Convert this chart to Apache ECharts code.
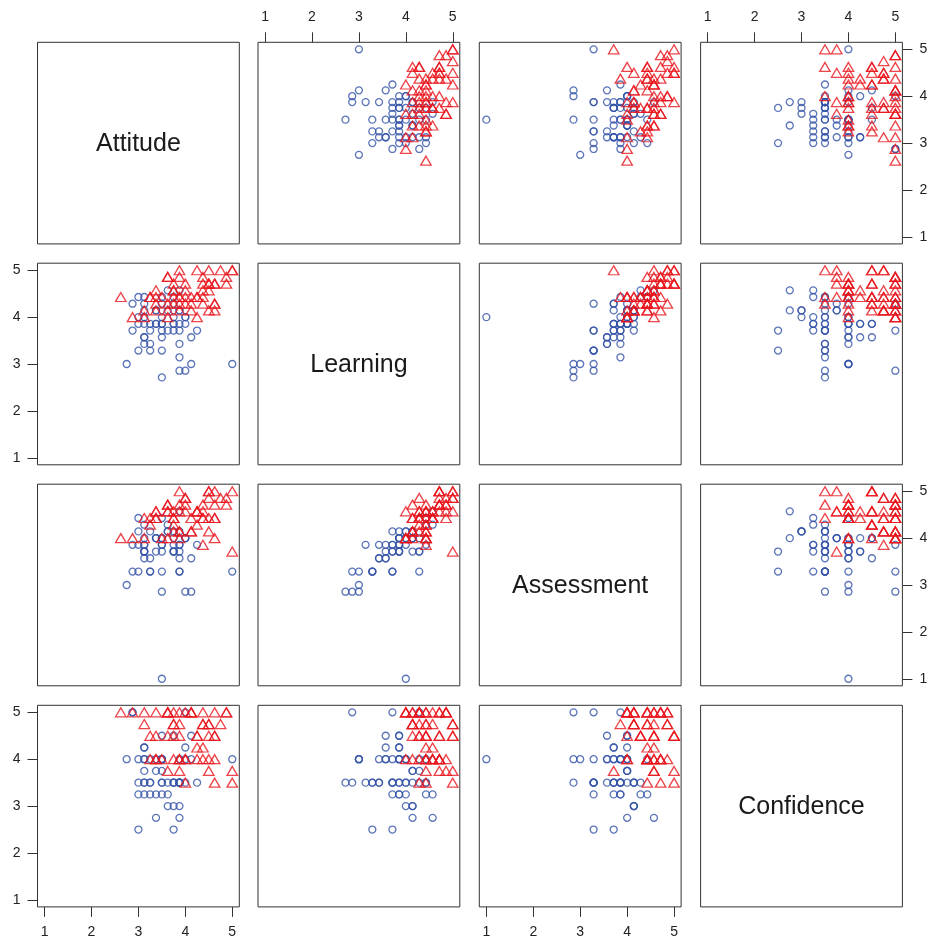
<!DOCTYPE html>
<html><head><meta charset="utf-8">
<script src="https://cdn.jsdelivr.net/npm/echarts@6/dist/echarts.min.js"></script>
<style>html,body{margin:0;padding:0;background:#fff}#c{width:933px;height:941px}</style>
</head><body><div id="c"></div>
<script>
// ---- data ----
const varNames = ['Attitude', 'Learning', 'Assessment', 'Confidence'];
const tickValues = [1, 2, 3, 4, 5];
// group: 1 = blue circles, 2 = red triangles
const group = [
  1,1,1,1,1,1,1,1,1,1, 1,1,1,1,1,1,1,1,1,1, 1,1,1,1,1,1,1,1,1,1,
  1,1,1,1,1,1,1,1,1,1, 1,1,1,1,1,1,1,1,1,1, 1,1,1,1,1,1,1,
  2,2,2,2,2,2,2,2,2,2, 2,2,2,2,2,2,2,2,2,2, 2,2,2,2,2,2,2,2,2,2,
  2,2,2,2,2,2,2,2,2,2, 2,2,2,2,2,2,2,2,2,2, 2,2,2,2,2,2,2,2,2
];
const attitude = [
  3.625,3.875,3.0,3.125,3.5,3.75,2.875,3.125,3.5,3.75, 3.125,3.375,3.625,3.875,3.0,3.125,3.5,3.75,4.0,3.0,
  3.125,3.25,3.375,3.5,3.75,3.875,4.0,2.875,3.25,3.5, 3.625,3.75,3.875,4.25,3.125,3.5,4.125,3.125,3.25,3.875,
  3.0,3.25,3.5,3.875,2.75,4.125,5.0,3.875,4.0,3.5, 3.5,3.75,3.375,4.0,3.375,3.875,3.125,
  3.875,4.25,4.5,4.75,5.0,5.0,3.625,3.875,4.375,4.875, 3.75,4.0,4.375,4.5,4.625,4.875,3.375,3.75,4.0,4.375,
  4.5,2.625,3.25,3.375,3.5,3.75,3.875,4.0,4.125,4.25, 4.375,3.375,3.625,3.75,3.875,4.0,4.125,4.375,4.625,4.625,
  3.125,3.375,3.625,3.875,4.125,4.5,4.625,2.875,3.125,3.625, 4.25,4.5,4.25,3.25,3.75,4.625,3.625,3.875
];
const learning = [
  4.571,4.571,4.429,4.429,4.429,4.429,4.286,4.286,4.286,4.286, 4.143,4.143,4.143,4.143,4.0,4.0,4.0,4.0,4.0,3.857,
  3.857,3.857,3.857,3.857,3.857,3.857,3.857,3.714,3.714,3.714, 3.714,3.714,3.714,3.714,3.571,3.571,3.571,3.429,3.429,3.429,
  3.286,3.286,3.286,3.143,3.0,3.0,3.0,2.857,2.857,2.714, 3.857,3.857,4.143,4.0,3.857,4.143,3.571,
  5.0,5.0,5.0,5.0,5.0,5.0,4.857,4.857,4.857,4.857, 4.714,4.714,4.714,4.714,4.714,4.714,4.571,4.571,4.571,4.571,
  4.571,4.429,4.429,4.429,4.429,4.429,4.429,4.429,4.429,4.429, 4.429,4.286,4.286,4.286,4.286,4.286,4.286,4.286,4.286,4.286,
  4.143,4.143,4.143,4.143,4.143,4.143,4.143,4.0,4.0,4.0, 4.0,4.714,4.429,4.429,4.571,4.714,4.857,4.429
];
const assessment = [
  4.286,4.571,4.429,4.286,4.429,3.857,3.286,3.714,4.0,3.714, 4.0,4.0,4.143,3.714,4.143,3.857,1.0,4.143,4.0,3.857,
  3.714,4.143,4.0,3.857,3.714,3.857,4.0,3.857,3.286,3.714, 4.143,3.714,3.286,3.857,3.714,3.857,3.571,3.857,3.571,3.571,
  3.286,3.286,3.286,3.857,3.0,2.857,3.286,3.286,2.857,2.857, 4.0,4.0,4.0,4.0,3.714,4.143,3.571,
  5.0,4.571,4.857,4.857,5.0,3.714,4.714,4.714,4.429,4.857, 4.571,4.857,4.714,5.0,5.0,4.714,4.571,4.429,4.571,4.429,
  4.429,4.0,4.286,4.571,4.0,4.143,4.0,4.714,4.143,4.286, 3.857,4.429,4.571,4.286,4.143,4.857,4.429,4.571,4.429,4.429,
  4.429,4.429,4.714,4.143,4.143,4.143,4.0,4.0,4.0,4.0, 4.571,5.0,4.571,4.429,4.429,4.714,4.571,4.571
];
const confidence = [
  3.25,2.75,4.0,3.5,3.25,3.5,5.0,4.0,3.75,3.5, 3.75,2.75,3.0,3.5,3.5,3.25,4.0,3.0,4.0,3.25,
  4.25,3.5,4.0,4.0,3.5,4.0,4.25,5.0,3.25,4.0, 3.5,2.5,3.5,3.5,4.25,4.0,4.5,3.5,4.0,3.5,
  2.5,3.5,3.5,3.5,4.0,4.0,4.0,3.5,5.0,3.5, 4.5,4.5,3.75,3.5,3.25,3.0,4.0,
  4.5,4.5,4.75,4.75,3.5,3.75,5.0,4.0,5.0,5.0, 5.0,4.0,4.0,3.75,4.5,5.0,5.0,4.75,4.0,4.25,
  4.0,5.0,4.5,4.5,4.0,4.75,4.0,3.5,5.0,4.5, 4.75,4.0,4.5,4.5,5.0,5.0,5.0,4.75,5.0,3.5,
  4.75,4.0,5.0,4.75,5.0,4.75,4.5,5.0,5.0,5.0, 4.0,4.5,4.25,4.0,4.0,4.0,3.75,3.75
];

// ---- layout ----
const panelLeft = [37.5, 258, 479.3, 700.6];
const panelTop = [42.3, 263.2, 484.2, 705.3];
const panelW = 201.8, panelH = 201.6;
const axisMin = 0.85, axisMax = 5.15;
const blue = '#3352a8', red = '#e8141c';
const fontFam = '"Liberation Sans", Arial, Helvetica, sans-serif';

const vars = [attitude, learning, assessment, confidence];
const grids = [], xAxes = [], yAxes = [], series = [], graphics = [];

function axisCommon(show, pos, margin) {
  return {
    type: 'value', min: axisMin, max: axisMax, position: pos,
    axisLine: { show: false },
    splitLine: { show: false },
    axisTick: { show: show, customValues: tickValues, length: 10, lineStyle: { color: '#333', width: 1 } },
    axisLabel: { show: show, customValues: tickValues, margin: margin, fontSize: 14, color: '#222', fontFamily: fontFam }
  };
}

let k = 0;
for (let i = 0; i < 4; i++) {
  for (let j = 0; j < 4; j++) {
    grids.push({
      left: panelLeft[j], top: panelTop[i], width: panelW, height: panelH,
      show: true, borderColor: '#333', borderWidth: 1, backgroundColor: 'transparent',
      containLabel: false, outerBoundsMode: 'none'
    });
    const showTop = (i === 0 && (j === 1 || j === 3));
    const showBottom = (i === 3 && (j === 0 || j === 2));
    const showRight = (j === 3 && (i === 0 || i === 2));
    const showLeft = (j === 0 && (i === 1 || i === 3));
    const xa = axisCommon(showTop || showBottom, showTop ? 'top' : 'bottom', 18);
    xa.gridIndex = k;
    const ya = axisCommon(showRight || showLeft, showRight ? 'right' : 'left', 17);
    ya.gridIndex = k;
    xAxes.push(xa); yAxes.push(ya);
    if (i === j) {
      graphics.push({
        type: 'text',
        x: panelLeft[j] + panelW / 2, y: panelTop[i] + panelH / 2 + 1,
        style: { text: varNames[i], font: '25px ' + fontFam, fill: '#1a1a1a',
                 align: 'center', verticalAlign: 'middle' },
        silent: true
      });
    } else {
      const xs = vars[j], ys = vars[i];
      const d1 = [], d2 = [];
      for (let n = 0; n < group.length; n++) {
        (group[n] === 1 ? d1 : d2).push([xs[n], ys[n]]);
      }
      series.push({
        type: 'scatter', xAxisIndex: k, yAxisIndex: k, data: d1,
        symbol: 'circle', symbolSize: 7,
        itemStyle: { color: 'rgba(0,0,0,0)', borderColor: blue, borderWidth: 1.3 },
        emphasis: { disabled: true }, z: 2
      });
      series.push({
        type: 'scatter', xAxisIndex: k, yAxisIndex: k, data: d2,
        symbol: 'triangle', symbolSize: [10.5, 9],
        itemStyle: { color: 'rgba(0,0,0,0)', borderColor: red, borderWidth: 1.3 },
        emphasis: { disabled: true }, z: 3
      });
    }
    k++;
  }
}

const chart = echarts.init(document.getElementById('c'), null, { renderer: 'canvas' });
chart.setOption({
  animation: false,
  backgroundColor: '#fff',
  grid: grids, xAxis: xAxes, yAxis: yAxes, series: series,
  graphic: graphics
});
</script></body></html>
